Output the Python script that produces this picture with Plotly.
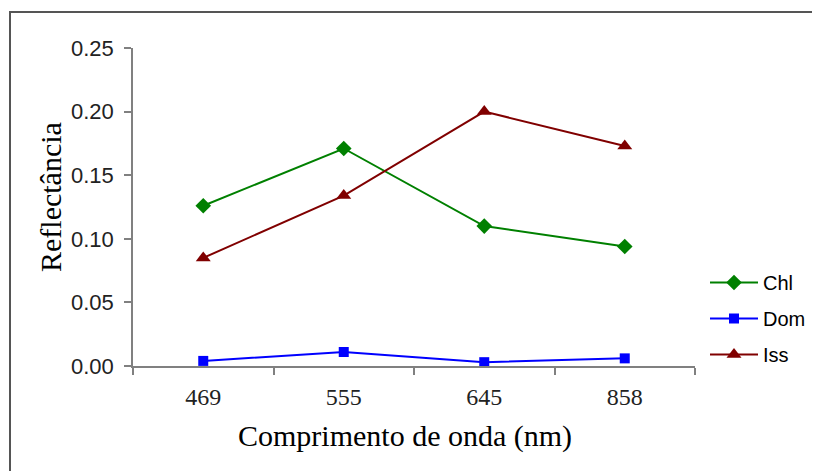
import plotly.graph_objects as go

categories = ["469", "555", "645", "858"]
chl = [0.126, 0.171, 0.110, 0.094]
dom = [0.004, 0.011, 0.003, 0.006]
iss = [0.085, 0.134, 0.200, 0.173]
y_ticks = [0.00, 0.05, 0.10, 0.15, 0.20, 0.25]

fig = go.Figure()
series = [
    ("Chl", chl, "#008000", "diamond", 12),
    ("Dom", dom, "#0000FF", "square", 10),
    ("Iss", iss, "#800000", "triangle-up", 13),
]
for name, vals, color, sym, ms in series:
    fig.add_trace(go.Scatter(
        x=categories, y=vals, name=name, mode="lines+markers",
        line=dict(color=color, width=2),
        marker=dict(symbol=sym, size=ms, color=color),
        legendgroup=name,
    ))

# page is offset by the 8px body margin
OFF = 8
W, H = 820 - OFF, 471 - OFF
L, R, T, B = 133 - OFF, 695 - OFF, 48 - OFF, 366 - OFF
pw, ph = R - L, B - T

def px(x):
    return (x - OFF - L) / pw

def py(y):
    return (B - (y - OFF)) / ph

serif = "Liberation Serif, Times New Roman, serif"
sans = "Liberation Sans, Arial, sans-serif"

fig.update_layout(
    width=W, height=H,
    margin=dict(l=L, r=W - R, t=T, b=H - B, autoexpand=False),
    paper_bgcolor="white", plot_bgcolor="white",
    showlegend=True,
    legend=dict(
        x=px(705), y=py(263), xanchor="left", yanchor="top",
        font=dict(family=sans, size=20, color="black"),
        tracegroupgap=7, traceorder="grouped", itemwidth=48,
        bgcolor="rgba(0,0,0,0)",
    ),
    xaxis=dict(
        type="category", range=[-0.5, 3.5],
        showline=True, linecolor="#808080", linewidth=1.5,
        ticks="outside", tickson="boundaries", ticklen=7, tickcolor="#808080", tickwidth=1.5,
        showgrid=False, zeroline=False, ticklabelstandoff=8,
        tickfont=dict(family=serif, size=24, color="#222"),
    ),
    yaxis=dict(
        range=[0, 0.25], tickvals=y_ticks, tickformat=".2f",
        showline=True, linecolor="#808080", linewidth=1.5,
        ticks="outside", ticklen=7, tickcolor="#808080", tickwidth=1.5,
        showgrid=False, zeroline=False, ticklabelstandoff=6,
        tickfont=dict(family=sans, size=22, color="#222"),
    ),
    annotations=[
        dict(text="Comprimento de onda (nm)", xref="paper", yref="paper",
             x=px(405), y=py(436), xanchor="center", yanchor="middle", showarrow=False,
             font=dict(family=serif, size=30, color="black")),
        dict(text="Reflectância", xref="paper", yref="paper", textangle=-90,
             x=px(50), y=py(197), xanchor="center", yanchor="middle", showarrow=False,
             font=dict(family=serif, size=30, color="black")),
    ],
    shapes=[dict(
        type="rect", xref="paper", yref="paper",
        x0=px(10), x1=px(860),
        y0=py(520), y1=py(12),
        line=dict(color="#555555", width=2), fillcolor="rgba(0,0,0,0)", layer="below",
    )],
)

fig.write_html("out.html")
